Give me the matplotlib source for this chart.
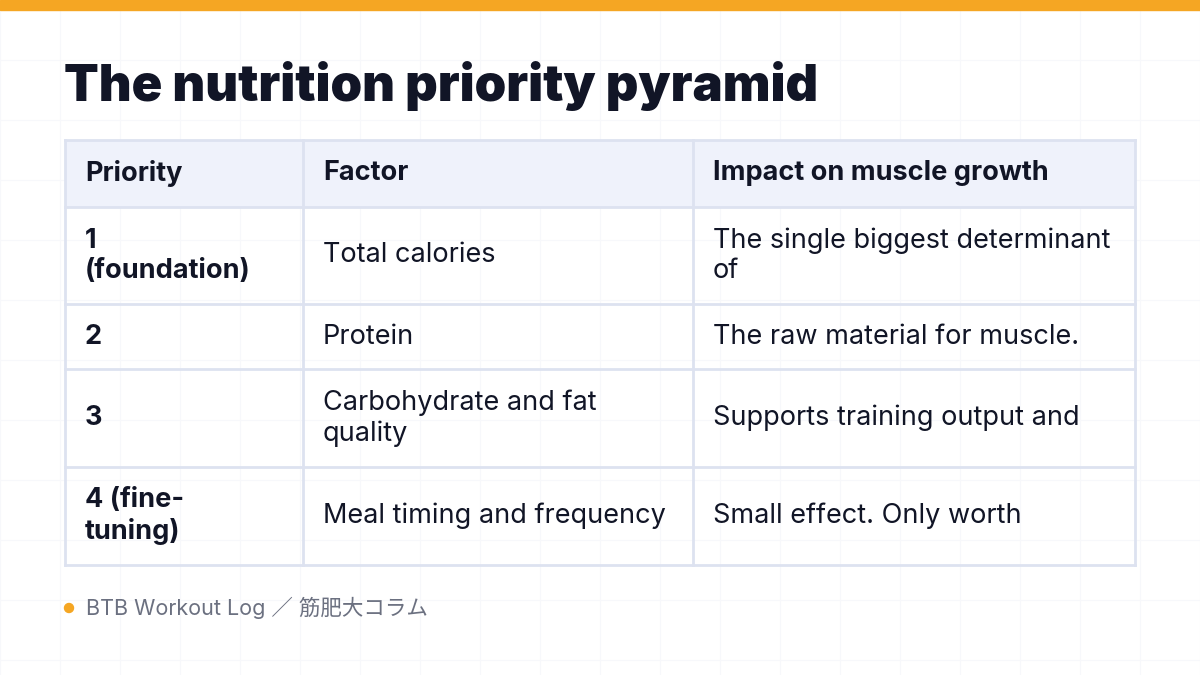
import matplotlib
matplotlib.use("Agg")
import matplotlib.pyplot as plt
from matplotlib.patches import Rectangle, Circle

plt.rcParams['font.family'] = ['Inter', 'Noto Sans CJK JP', 'DejaVu Sans']

title = "The nutrition priority pyramid"
headers = ["Priority", "Factor", "Impact on muscle growth"]
priorities = ["1\n(foundation)", "2", "3", "4 (fine-\ntuning)"]
factors = ["Total calories", "Protein", "Carbohydrate and fat\nquality",
           "Meal timing and frequency"]
impacts = ["The single biggest determinant\nof", "The raw material for muscle.",
           "Supports training output and", "Small effect. Only worth"]
footer = "BTB Workout Log ／ 筋肥大コラム"

# layout in pixels
col_x = [65, 303, 693, 1135]
row_y = [140, 207, 304, 369, 467, 565]

fig = plt.figure(figsize=(12, 6.75), dpi=100)
ax = fig.add_axes([0, 0, 1, 1])
ax.set_xlim(0, 1200)
ax.set_ylim(675, 0)
ax.axis('off')

# faint background grid
for g in range(0, 1201, 60):
    ax.axvline(g, color='#f7f8fb', lw=0.8, zorder=0)
for g in range(0, 676, 60):
    ax.axhline(g, color='#f7f8fb', lw=0.8, zorder=0)

ax.add_patch(Rectangle((0, 0), 1200, 10, color='#f5a623', zorder=2))

ax.text(64, 86, title, fontsize=36.5, fontweight='black', color='#111526',
        va='center', ha='left')

border = '#dde2f0'
ax.add_patch(Rectangle((col_x[0], row_y[0]), col_x[-1] - col_x[0], row_y[1] - row_y[0],
                       facecolor='#eff2fb', edgecolor='none', zorder=1))
for x in col_x:
    ax.plot([x, x], [row_y[0], row_y[-1]], color=border, lw=2, zorder=3)
for y in row_y:
    ax.plot([col_x[0], col_x[-1]], [y, y], color=border, lw=2, zorder=3)

for j, h in enumerate(headers):
    ax.text(col_x[j] + 20, (row_y[0] + row_y[1]) / 2, h, fontsize=19.5,
            fontweight='bold', color='#111526', va='center', zorder=4)

for i, row in enumerate(zip(priorities, factors, impacts)):
    yc = (row_y[i + 1] + row_y[i + 2]) / 2
    for j, val in enumerate(row):
        ax.text(col_x[j] + 20, yc, val, fontsize=19.5 if j == 0 else 19.5,
                fontweight='bold' if j == 0 else 'normal', color='#111526',
                va='center', linespacing=1.2, zorder=4)

ax.add_patch(Circle((69, 608), 4.5, color='#f5a623', zorder=4))
ax.text(86, 608, footer, fontsize=15.5, color='#6b7080', va='center', zorder=4)

fig.savefig('out.png', dpi=100)
